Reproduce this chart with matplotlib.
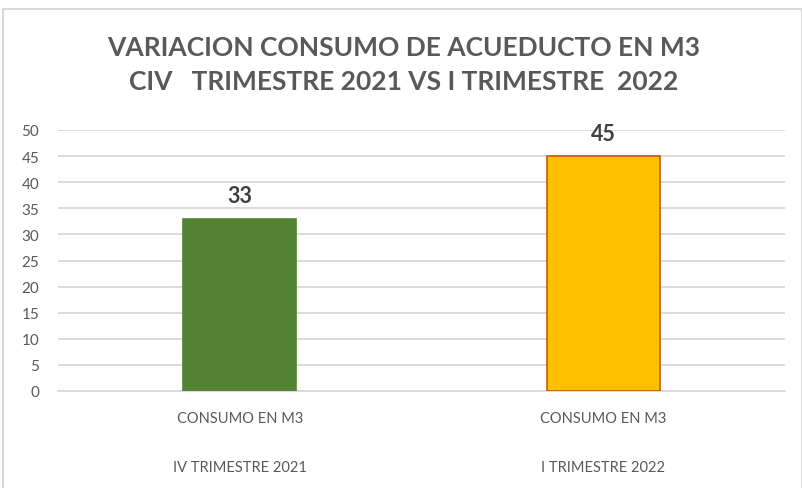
import matplotlib
matplotlib.use("Agg")
import matplotlib.pyplot as plt
from matplotlib.patches import Rectangle

categories_top = ["CONSUMO EN M3", "CONSUMO EN M3"]
categories_bottom = ["IV TRIMESTRE 2021", "I TRIMESTRE 2022"]
values = [33, 45]
colors = ["#548235", "#FFC000"]
edges = ["#548235", "#C55A11"]
title_lines = ["VARIACION CONSUMO DE ACUEDUCTO EN M3", "CIV   TRIMESTRE 2021 VS I TRIMESTRE  2022"]
yticks = list(range(0, 55, 5))

plt.rcParams['font.family'] = ['Lato', 'DejaVu Sans']
txt = "#595959"

fig = plt.figure(figsize=(8.02, 4.89), dpi=100)
W, H = 802, 489
ax = fig.add_axes([58 / W, 1 - 392 / H, (785 - 58) / W, (392 - 131) / H])

x = list(range(len(values)))
ax.bar(x, values, width=0.31, color=colors, edgecolor=edges, linewidth=1.2, zorder=3)
for xi, v in zip(x, values):
    ax.annotate(str(v), (xi, v), xytext=(0, 9), textcoords="offset points",
                ha="center", va="bottom", fontsize=15.5, fontweight="bold", color="#404040")

ax.set_xlim(-0.5, 1.5)
ax.set_ylim(0, 50)
ax.set_yticks(yticks)
ax.set_yticklabels([str(t) for t in yticks], fontsize=11, color=txt)
ax.yaxis.grid(True, color="#d9d9d9", linewidth=1.3, zorder=0)
ax.tick_params(axis="y", length=0, pad=13.5)
ax.set_xticks([])
for s in ["top", "right", "left"]:
    ax.spines[s].set_visible(False)
ax.spines["bottom"].set_color("#d9d9d9")
ax.spines["bottom"].set_linewidth(1.3)

for xi, a, b in zip(x, categories_top, categories_bottom):
    ax.annotate(a, (xi, 0), xycoords=("data", "axes fraction"), xytext=(0, -27 * 0.72),
                textcoords="offset points", ha="center", va="center", fontsize=10.5, color=txt)
    ax.annotate(b, (xi, 0), xycoords=("data", "axes fraction"), xytext=(0, -76 * 0.72),
                textcoords="offset points", ha="center", va="center", fontsize=10.5, color=txt)

for i, line in enumerate(title_lines):
    fig.text(404 / W, 1 - (46.5 + 34 * i) / H, line, ha="center", va="center_baseline",
             fontsize=19, fontweight="bold", color=txt)

fig.patches.append(Rectangle((3.5 / W, -0.1), (801.5 - 3.5) / W, 1.1 - 9.5 / H,
                             transform=fig.transFigure, fill=False,
                             edgecolor="#d9d9d9", linewidth=1.5))

fig.savefig("out.png", dpi=100, facecolor="white")
